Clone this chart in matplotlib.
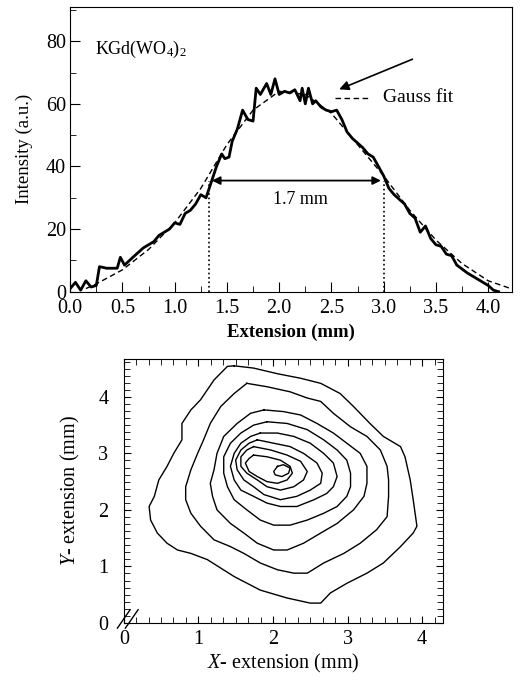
import matplotlib
matplotlib.use("Agg")
import matplotlib.pyplot as plt
from matplotlib.ticker import MultipleLocator, AutoMinorLocator

plt.rcParams['font.family'] = ['Liberation Serif', 'DejaVu Serif']
plt.rcParams['mathtext.fontset'] = 'custom'
plt.rcParams['mathtext.rm'] = 'Liberation Serif'
plt.rcParams['mathtext.it'] = 'Liberation Serif:italic'

# --- top panel: measured profile and Gauss fit
ext = [0.0, 0.05, 0.1, 0.15, 0.2, 0.25, 0.28, 0.35, 0.45, 0.48, 0.52, 0.6, 0.7, 0.8, 0.85,
       0.95, 1.0, 1.05, 1.1, 1.15, 1.2, 1.25, 1.3, 1.35, 1.4, 1.45, 1.48, 1.52, 1.55, 1.6,
       1.65, 1.7, 1.75, 1.78, 1.82, 1.88, 1.92, 1.96, 2.0, 2.05, 2.1, 2.15, 2.2, 2.22, 2.25,
       2.28, 2.32, 2.35, 2.4, 2.45, 2.5, 2.55, 2.6, 2.65, 2.7, 2.8, 2.85, 2.9, 2.95, 3.0,
       3.05, 3.1, 3.2, 3.25, 3.3, 3.35, 3.4, 3.45, 3.5, 3.55, 3.6, 3.65, 3.7, 3.8, 3.9,
       4.0, 4.05, 4.1]
intensity = [1, 3, 0.5, 3.5, 1.5, 2, 8, 7.5, 7.5, 11, 8.5, 11, 14, 16, 18,
             20, 22, 21.5, 25, 26, 28, 31, 30, 35, 40, 44, 42.5, 43, 48, 52,
             58, 55, 54.5, 65, 63, 66.5, 63, 68, 63, 64, 63.5, 64.5, 61, 65, 60,
             65, 60, 61, 59, 58, 57.5, 58, 55, 51, 49, 46, 44, 43, 40, 37,
             33, 31, 28, 25, 23.5, 19, 21, 17, 15, 14.5, 12, 11.5, 8.5, 6, 4,
             2, 0.5, 0]
fit_x = [0.15, 0.25, 0.5, 0.75, 1.0, 1.25, 1.5, 1.75, 2.0, 2.25, 2.5, 2.75, 3.0, 3.25,
         3.5, 3.75, 4.0, 4.2]
fit_y = [1, 2.5, 7, 13.5, 22, 33, 47, 58, 64, 63, 57, 47, 37, 26, 16.5, 9, 3.5, 1.2]
fwhm_left, fwhm_right, fwhm_level = 1.33, 3.0, 35.5

# --- bottom panel: iso-intensity contours (x, y in mm), outermost first
c1x = [1.48, 1.74, 2.06, 2.37, 2.64, 2.90, 3.08, 3.30, 3.48, 3.71, 3.77, 3.84, 3.88, 3.93,
       3.88, 3.71, 3.48, 3.26, 2.99, 2.77, 2.64, 2.50, 2.19, 1.83, 1.48, 1.12, 0.90, 0.72,
       0.58, 0.45, 0.36, 0.34, 0.41, 0.47, 0.58, 0.67, 0.78, 0.78, 0.90, 1.03, 1.21, 1.39]
c1y = [4.55, 4.51, 4.41, 4.33, 4.24, 4.06, 3.83, 3.53, 3.30, 3.12, 2.94, 2.53, 2.18, 1.71,
       1.59, 1.35, 1.06, 0.88, 0.70, 0.53, 0.35, 0.35, 0.44, 0.58, 0.82, 1.12, 1.23, 1.29,
       1.41, 1.59, 1.82, 2.06, 2.24, 2.53, 2.77, 3.00, 3.24, 3.53, 3.77, 3.95, 4.30, 4.54]
c2x = [1.65, 1.92, 2.23, 2.46, 2.64, 2.81, 3.04, 3.26, 3.44, 3.53, 3.55, 3.55, 3.53, 3.39,
       3.17, 2.95, 2.68, 2.46, 2.28, 2.06, 1.83, 1.61, 1.43, 1.21, 1.03, 0.90, 0.83, 0.83,
       0.90, 0.99, 1.07, 1.16, 1.30, 1.48]
c2y = [4.24, 4.18, 4.09, 3.98, 3.92, 3.71, 3.47, 3.30, 3.06, 2.77, 2.53, 2.24, 1.88, 1.65,
       1.41, 1.23, 1.06, 0.88, 0.88, 0.94, 1.06, 1.23, 1.35, 1.47, 1.71, 1.94, 2.18, 2.41,
       2.71, 3.00, 3.24, 3.53, 3.83, 4.06]
c3x = [1.88, 2.14, 2.37, 2.59, 2.81, 2.99, 3.17, 3.26, 3.26, 3.22, 3.08, 2.86, 2.64, 2.41,
       2.19, 2.01, 1.79, 1.61, 1.43, 1.25, 1.19, 1.16, 1.21, 1.25, 1.34, 1.52, 1.70]
c3y = [3.77, 3.74, 3.68, 3.53, 3.36, 3.18, 3.00, 2.77, 2.47, 2.24, 2.00, 1.76, 1.59, 1.41,
       1.29, 1.29, 1.41, 1.59, 1.76, 2.00, 2.24, 2.47, 2.71, 3.00, 3.30, 3.53, 3.71]
c4x = [1.92, 2.19, 2.46, 2.68, 2.86, 2.99, 3.04, 3.04, 2.99, 2.86, 2.68, 2.46, 2.23, 2.01,
       1.83, 1.65, 1.48, 1.39, 1.34, 1.34, 1.43, 1.57, 1.74]
c4y = [3.56, 3.53, 3.42, 3.24, 3.06, 2.88, 2.65, 2.41, 2.24, 2.06, 1.94, 1.82, 1.73, 1.73,
       1.82, 2.00, 2.18, 2.41, 2.65, 2.94, 3.18, 3.36, 3.50]
c5x = [1.83, 2.06, 2.28, 2.50, 2.68, 2.81, 2.86, 2.81, 2.72, 2.55, 2.32, 2.10, 1.92, 1.74,
       1.57, 1.48, 1.43, 1.48, 1.57, 1.70]
c5y = [3.36, 3.36, 3.30, 3.18, 3.00, 2.83, 2.59, 2.41, 2.29, 2.18, 2.06, 2.06, 2.12, 2.24,
       2.35, 2.53, 2.77, 3.00, 3.18, 3.30]
c6x = [1.79, 2.01, 2.23, 2.41, 2.59, 2.66, 2.64, 2.50, 2.32, 2.10, 1.88, 1.74, 1.61, 1.52,
       1.50, 1.57, 1.68]
c6y = [3.24, 3.18, 3.12, 3.00, 2.83, 2.65, 2.47, 2.35, 2.24, 2.18, 2.27, 2.41, 2.53, 2.71,
       2.88, 3.06, 3.18]
c7x = [1.74, 1.97, 2.19, 2.37, 2.46, 2.41, 2.28, 2.10, 1.92, 1.79, 1.65, 1.57, 1.57, 1.65]
c7y = [3.12, 3.06, 2.97, 2.86, 2.68, 2.53, 2.41, 2.35, 2.41, 2.53, 2.65, 2.77, 2.94, 3.06]
c8x = [1.74, 1.92, 2.10, 2.23, 2.26, 2.19, 2.06, 1.92, 1.79, 1.68, 1.63, 1.68]
c8y = [2.97, 2.94, 2.88, 2.77, 2.65, 2.53, 2.47, 2.50, 2.59, 2.68, 2.83, 2.91]
c9x = [2.06, 2.14, 2.23, 2.21, 2.12, 2.03, 2.01]
c9y = [2.77, 2.80, 2.74, 2.65, 2.59, 2.62, 2.68]
contours = [(c1x, c1y), (c2x, c2y), (c3x, c3y), (c4x, c4y), (c5x, c5y),
            (c6x, c6y), (c7x, c7y), (c8x, c8y), (c9x, c9y)]

fig = plt.figure(figsize=(5.2, 6.8), dpi=100)

ax = fig.add_axes([0.135, 0.571, 0.85, 0.419])
ax.plot(ext, intensity, 'k-', lw=2.0)
ax.plot(fit_x, fit_y, 'k--', lw=1.0, dashes=(4, 2.5))
ax.plot([fwhm_left, fwhm_left], [0, fwhm_level], 'k:', lw=1.2)
ax.plot([fwhm_right, fwhm_right], [0, fwhm_level], 'k:', lw=1.2)
ax.annotate('', xy=(fwhm_left, fwhm_level), xytext=(fwhm_right, fwhm_level),
            arrowprops=dict(arrowstyle='<|-|>', color='k', lw=1.3, mutation_scale=12))
ax.text(2.2, 29.5, '1.7 mm', ha='center', va='center', fontsize=13)
ax.text(0.24, 77.5, r'KGd(WO$_4$)$_2$', fontsize=13, va='center')
ax.annotate('', xy=(2.55, 64.3), xytext=(3.30, 74.6),
            arrowprops=dict(arrowstyle='-|>', color='k', lw=1.2, mutation_scale=14))
ax.plot([2.53, 2.88], [62, 62], 'k--', lw=1.0, dashes=(4, 2.5))
ax.text(2.99, 62, 'Gauss fit', fontsize=14, va='center')
ax.set_xlim(0, 4.23)
ax.set_ylim(0, 91)
ax.xaxis.set_major_locator(MultipleLocator(0.5))
ax.xaxis.set_minor_locator(MultipleLocator(0.25))
ax.yaxis.set_major_locator(MultipleLocator(20))
ax.yaxis.set_minor_locator(MultipleLocator(10))
ax.xaxis.set_major_formatter(plt.FormatStrFormatter('%.1f'))
ax.tick_params(which='both', direction='in', labelsize=14.5)
ax.tick_params(axis='x', pad=5)
ax.tick_params(axis='y', pad=3)
ax.tick_params(which='major', length=7)
ax.tick_params(which='minor', length=4)
ax.set_xlabel('Extension (mm)', fontsize=13.5, fontweight='bold', labelpad=4)
ax.set_ylabel('Intensity (a.u.)', fontsize=13.5, labelpad=9)

ax2 = fig.add_axes([0.238, 0.084, 0.614, 0.388])
for cx, cy in contours:
    ax2.plot(cx + cx[:1], cy + cy[:1], 'k-', lw=1.0)
ax2.set_xlim(0, 4.28)
ax2.set_ylim(0, 4.67)
ax2.xaxis.set_major_locator(MultipleLocator(1))
ax2.xaxis.set_minor_locator(AutoMinorLocator(6))
ax2.yaxis.set_major_locator(MultipleLocator(1))
ax2.yaxis.set_minor_locator(AutoMinorLocator(8))
ax2.tick_params(which='both', direction='in', labelsize=14.5, top=True, right=True)
ax2.tick_params(axis='x', pad=5)
ax2.tick_params(axis='y', pad=11)
ax2.tick_params(which='major', length=5)
ax2.tick_params(which='minor', length=4)
ax2.set_xlabel(r'$X$- extension (mm)', fontsize=14.5, labelpad=2)
ax2.set_ylabel(r'$Y$- extension (mm)', fontsize=14.5, labelpad=12)
# axis break marks at the origin
for dx in (0.0, 0.025):
    ax2.plot([-0.02 + dx, 0.02 + dx], [-0.02, 0.05], 'k-', lw=1.0,
             transform=ax2.transAxes, clip_on=False)

fig.savefig('out.png', dpi=100)
